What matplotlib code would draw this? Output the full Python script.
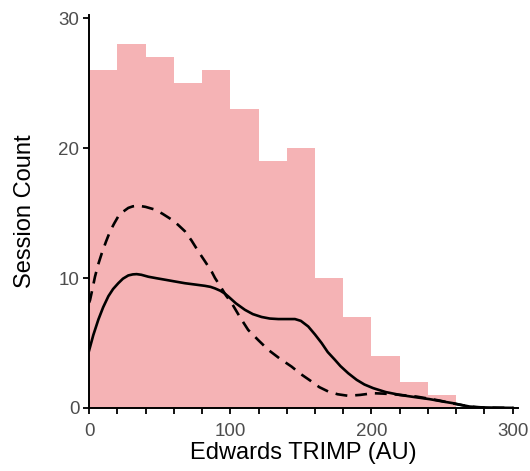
import numpy as np
import matplotlib.pyplot as plt

plt.rcParams['font.family'] = ['Liberation Sans', 'DejaVu Sans']

# histogram bins (width 20) and session counts
bin_edges = [0, 20, 40, 60, 80, 100, 120, 140, 160, 180, 200, 220, 240, 260, 280, 300]
counts = [26, 28, 27, 25, 26, 23, 19, 20, 10, 7, 4, 2, 1, 0, 0]

# solid density curve (scaled to counts)
solid_x = [0, 3, 6.6, 10, 13.7, 17, 20.7, 24, 27.8, 31, 33.7, 37, 42, 48, 53.8, 60, 67.9, 75, 82, 86,
           89.2, 93, 96.2, 98.6, 104, 110.4, 116, 122.2, 128, 134, 140, 145.8, 150, 155.2, 160,
           164.7, 169, 174.1, 178, 183.5, 189.5, 195, 201.2, 210, 220, 230, 241.3, 250, 257.8,
           264, 269.6, 278, 290, 300]
solid_y = [4.4, 5.6, 6.8, 7.75, 8.6, 9.15, 9.6, 9.95, 10.2, 10.28, 10.3, 10.25, 10.1, 9.98, 9.87, 9.75,
           9.6, 9.5, 9.4, 9.32, 9.2, 9.02, 8.8, 8.58, 8.05, 7.55, 7.22, 7.0, 6.88, 6.84, 6.84, 6.84,
           6.7, 6.27, 5.65, 4.99, 4.3, 3.7, 3.22, 2.67, 2.16, 1.8, 1.52, 1.22, 1.0, 0.84, 0.67, 0.5,
           0.36, 0.22, 0.1, 0.04, 0.01, 0.0]

# dashed density curve (scaled to counts)
dashed_x = [0, 0.7, 2.5, 4.2, 6.5, 9, 12, 14.9, 17.8, 20.7, 24, 27.8, 31, 34.9, 40, 46.7, 52, 58.5,
            63, 67.9, 72.5, 77.4, 82, 86.8, 89.2, 93.9, 97, 101, 106.8, 112.7, 120, 126.9, 135,
            143.4, 150, 157.6, 163, 169.4, 176, 183.5, 192, 201.2, 208, 215.4, 222, 231.9, 240,
            248.4, 255, 262, 268, 274, 285, 300]
dashed_y = [8.1, 8.3, 9.2, 10.1, 11.05, 11.9, 12.8, 13.6, 14.2, 14.75, 15.1, 15.4, 15.52, 15.57, 15.48,
            15.27, 14.95, 14.5, 14.1, 13.6, 12.9, 12.05, 11.3, 10.5, 10.0, 9.2, 8.65, 8.07, 7.0, 6.0,
            5.2, 4.47, 3.8, 3.18, 2.6, 2.03, 1.6, 1.26, 1.05, 0.93, 1.0, 1.13, 1.1, 1.05, 0.98, 0.87,
            0.72, 0.56, 0.4, 0.25, 0.13, 0.05, 0.01, 0.0]

fig = plt.figure(figsize=(5.3, 4.71), dpi=100)
ax = fig.add_axes([0.168, 0.134, 0.809, 0.834])

ax.stairs(counts, bin_edges, fill=True, color='#F5B3B5', linewidth=0)
ax.plot(solid_x, solid_y, color='black', linewidth=1.9, solid_joinstyle='round')
ax.plot(dashed_x, dashed_y, color='black', linewidth=1.9, linestyle=(0, (4.5, 3)),
        dash_joinstyle='round')

ax.set_xlim(0, 303.6)
ax.set_ylim(0, 30.25)
ax.set_xticks([0, 100, 200, 300])
ax.set_xticks(np.arange(0, 301, 20), minor=True)
ax.set_yticks([0, 10, 20, 30])

for side in ['top', 'right']:
    ax.spines[side].set_visible(False)
for side in ['left', 'bottom']:
    ax.spines[side].set_linewidth(1.4)

ax.tick_params(which='both', direction='out', length=4, width=1.3, color='black',
               labelsize=13.5, labelcolor='#4D4D4D', pad=3)
ax.tick_params(axis='x', which='both', pad=7)

ax.set_xlabel('Edwards TRIMP (AU)', fontsize=17, labelpad=1)
ax.set_ylabel('Session Count', fontsize=17, labelpad=16)

fig.savefig('out.png', dpi=100)
